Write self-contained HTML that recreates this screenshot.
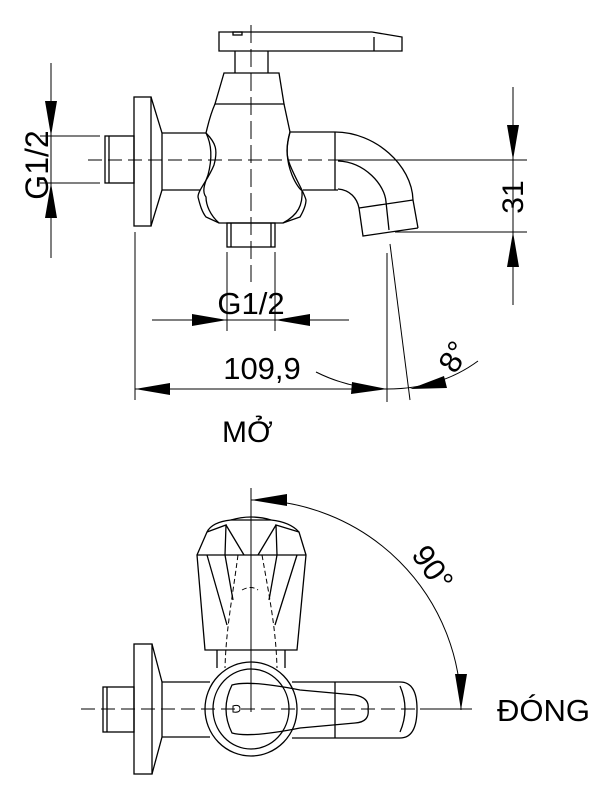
<!DOCTYPE html>
<html><head><meta charset="utf-8"><style>
html,body{margin:0;padding:0;background:#fff}
svg{display:block}
text{font-family:"Liberation Sans",Arial,sans-serif;fill:#000}
</style></head><body>
<svg width="616" height="800" viewBox="0 0 616 800" xmlns="http://www.w3.org/2000/svg">
<g fill="none" stroke="#000" stroke-width="1.3">
<path d="M219,32 H372 L402,37 V51 H219 Z"/>
<line x1="374" y1="37" x2="374" y2="51"/>
<rect x="233" y="32" width="9" height="3"/>
<line x1="235" y1="51" x2="235" y2="73"/><line x1="268" y1="51" x2="268" y2="73"/>
<path d="M224,73 H279 L284,104 H215 Z"/>
<path d="M215,104 C210,115 208,125 206,133 C216,143 218,150 214,165 C208,180 198,190 198,197 C200,205 202,212 206,217 L219,223 H283 L300,217 C304,210 306,205 306,200 C304,192 296,180 290,165 C286,155 286,148 290,132 L284,104"/>
<path d="M206,133 C212,145 212,160 208,175 C204,185 202,192 206,197 C206,205 210,215 219,223"/>
<path d="M290,132 C286,145 286,160 292,175 C296,185 302,192 302,190 C303,205 298,215 283,223"/>
<rect x="227" y="223" width="48" height="24"/>
<line x1="231" y1="223" x2="231" y2="247"/><line x1="271" y1="223" x2="271" y2="247"/>
<rect x="134" y="97" width="17" height="129"/>
<path d="M151,97 L162,133 V190 L151,226"/>
<rect x="105" y="136" width="29" height="47"/>
<line x1="109" y1="136" x2="109" y2="183"/>
<line x1="162" y1="133" x2="206" y2="133"/><line x1="162" y1="190" x2="200" y2="190"/>
<line x1="290" y1="132" x2="335" y2="132"/><line x1="303" y1="190" x2="338" y2="190"/>
<line x1="335" y1="132" x2="335" y2="190"/>
<path d="M335,132 C375,132 412,165 413,200 L418,228"/>
<path d="M338,189 C350,190 357,198 359,208 L363,236 L418,228"/>
<line x1="359" y1="208" x2="413" y2="200"/>
<path d="M338,161 C365,162 385,185 386,202 L389,230"/>
<line x1="88" y1="160" x2="335" y2="160" stroke-dasharray="14,6" stroke-width="1"/>
<line x1="335" y1="160" x2="527" y2="160" stroke-width="1"/>
<line x1="251" y1="25" x2="251" y2="282" stroke-dasharray="18,6" stroke-width="1"/>
<line x1="51" y1="63" x2="51" y2="258" stroke-width="1"/>
<line x1="40" y1="136" x2="100" y2="136" stroke-width="1"/>
<line x1="40" y1="183" x2="100" y2="183" stroke-width="1"/>
<line x1="513" y1="87" x2="513" y2="305" stroke-width="1"/>
<line x1="395" y1="232" x2="527" y2="232" stroke-width="1"/>
<line x1="152" y1="320" x2="349" y2="320" stroke-width="1"/>
<line x1="227" y1="252" x2="227" y2="331" stroke-width="1"/>
<line x1="275" y1="252" x2="275" y2="331" stroke-width="1"/>
<line x1="135" y1="389" x2="387" y2="389" stroke-width="1"/>
<line x1="135" y1="232" x2="135" y2="400" stroke-width="1"/>
<line x1="387" y1="253" x2="387" y2="402" stroke-width="1"/>
<line x1="390" y1="244" x2="410" y2="400" stroke-width="1"/>
<path d="M316,372 Q350,389 387,389 Q440,389 478,361" stroke-width="1"/>

<line x1="251" y1="488" x2="251" y2="712" stroke-width="1"/>
<path d="M251,500 A210,210 0 0 1 461,710" stroke-width="1"/>
<path d="M207,532 L197,555 L205,650 H297 L306,555 L299,532 Q290,522 271,520 H231 Q212,522 207,532 Z"/>
<path d="M231,520 Q251,514 271,520"/>
<path d="M197,555 H306"/>
<path d="M207,532 L226,525 L225,555 M299,532 L276,525 L277,555"/>
<path d="M207,555 L227,625 M297,555 L275,625 M225,555 L233,600 M277,555 L269,600"/>
<path d="M226,525 L244,555 M276,525 L258,555"/>
<g stroke-dasharray="5,3" stroke-width="1"><path d="M238,555 C232,600 226,630 225,668"/><path d="M262,555 C270,600 276,630 277,668"/><path d="M242,590 Q251,585 258,590"/></g>
<line x1="217" y1="650" x2="217" y2="668"/><line x1="285" y1="650" x2="285" y2="668"/>
<ellipse cx="251" cy="709" rx="46" ry="47"/>
<ellipse cx="251" cy="709" rx="38" ry="40"/>
<path d="M292,682 H400 Q417,682 417,709 Q417,738 400,738 H292"/>
<path d="M232,685 Q250,680 300,690 L355,695 Q370,698 368,709 Q370,722 355,723 L300,728 Q250,738 232,733 Q220,709 232,685 Z"/>
<path d="M400,686 Q410,709 400,732"/>
<line x1="335" y1="682" x2="335" y2="738"/>
<path d="M233,706 Q240,704 240,709 Q240,713 233,712 Z" stroke-width="1"/>
<rect x="134" y="644" width="18" height="130"/>
<path d="M152,644 L162,682 V737 L152,774"/>
<line x1="162" y1="682" x2="210" y2="682"/><line x1="162" y1="737" x2="210" y2="737"/>
<rect x="103" y="687" width="31" height="45"/>
<line x1="107" y1="687" x2="107" y2="732"/>
<line x1="81" y1="709" x2="420" y2="709" stroke-dasharray="14,6" stroke-width="1"/>
<line x1="420" y1="709" x2="472" y2="709" stroke-width="1"/>
</g>
<g fill="#000">
<polygon points="51,136 45,101 57,101"/>
<polygon points="51,183 45,218 57,218"/>
<polygon points="513,160 507,125 519,125"/>
<polygon points="513,232 507,267 519,267"/>
<polygon points="227,320 192,314 192,326"/>
<polygon points="275,320 310,314 310,326"/>
<polygon points="135,389 170,383 170,395"/>
<polygon points="387,389 352,382 351,394"/>
<polygon points="410,389 444,376 447,388"/>
<polygon points="251,500 287,494 287,506"/>
<polygon points="461,710 455,674 467,674"/>
</g>
<text x="0" y="0" font-size="32" transform="translate(48,165) rotate(-90)" text-anchor="middle">G1/2</text>
<text x="0" y="0" font-size="30" transform="translate(523,197) rotate(-90)" text-anchor="middle">31</text>
<text x="251" y="314" font-size="31" text-anchor="middle">G1/2</text>
<text x="262" y="379" font-size="31" text-anchor="middle">109,9</text>
<text x="0" y="0" font-size="31" transform="translate(463,362) rotate(-60)" text-anchor="middle">8°</text>
<text x="222" y="442" font-size="30">MỞ</text>
<text x="0" y="0" font-size="31" transform="translate(424,574) rotate(55)" text-anchor="middle">90°</text>
<text x="497" y="721" font-size="31">ĐÓNG</text>
</svg>
</body></html>
